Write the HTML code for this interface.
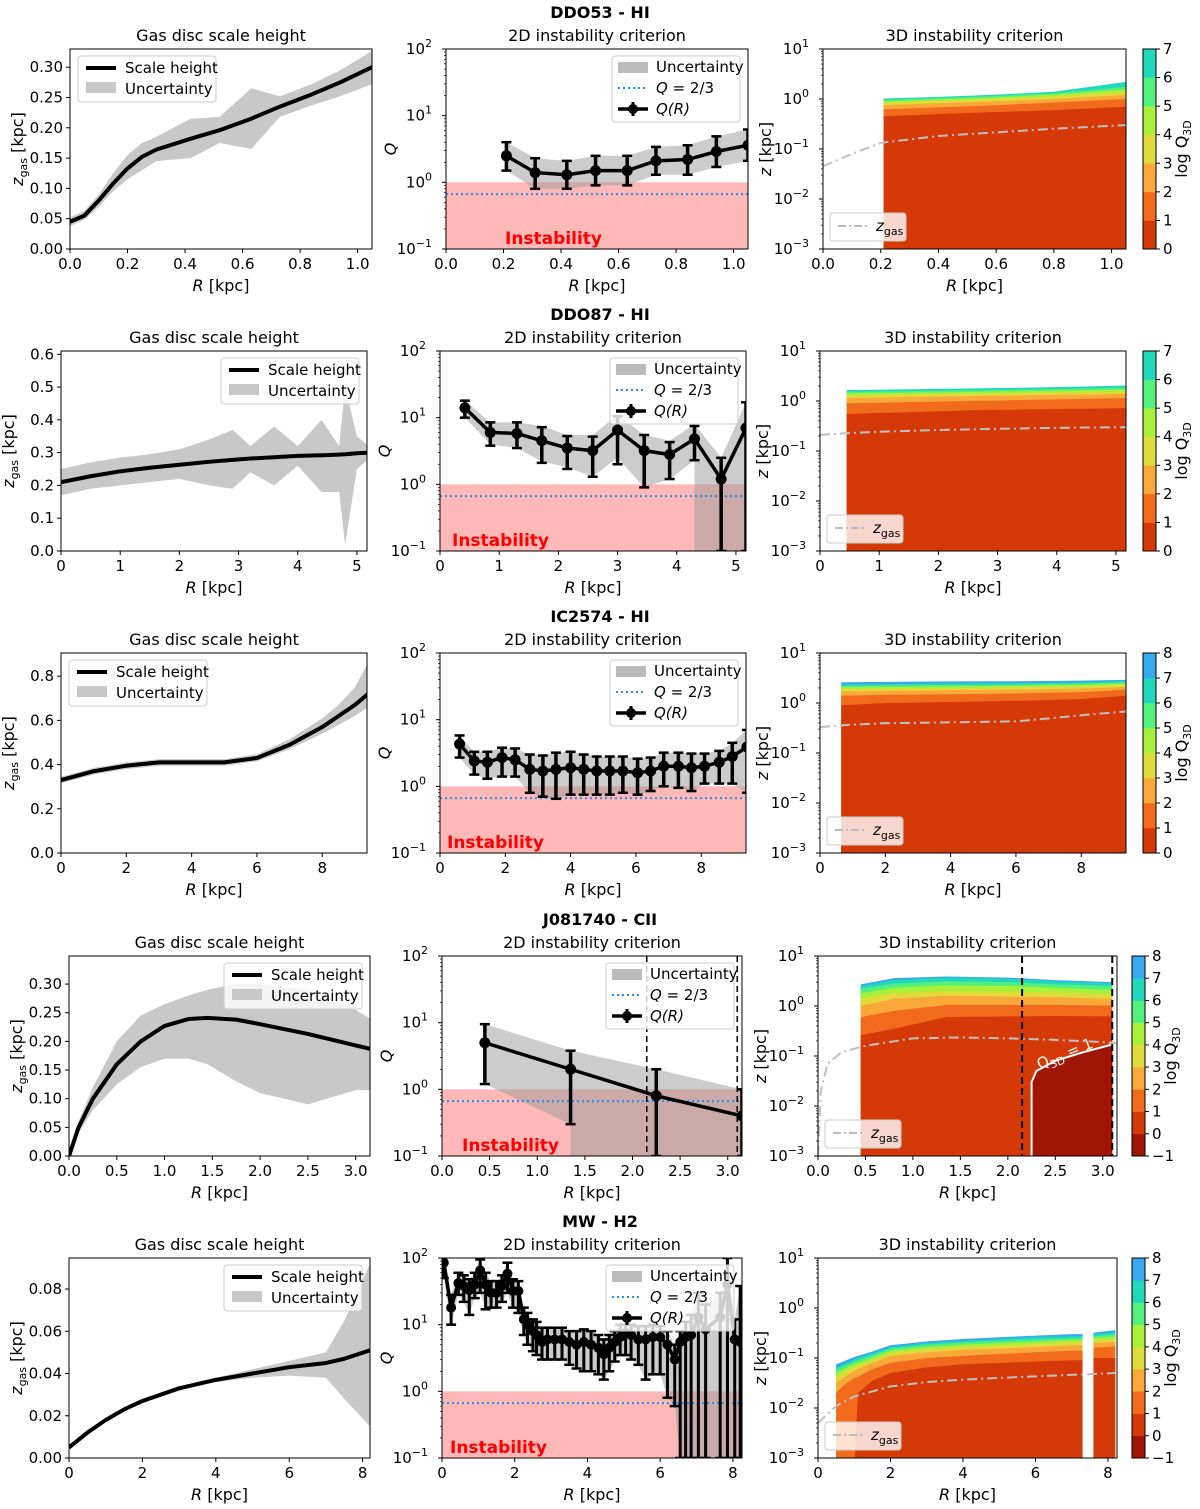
<!DOCTYPE html>
<html><head><meta charset="utf-8">
<style>
html,body{margin:0;padding:0;background:#fff;}
svg{display:block;font-family:"DejaVu Sans","Liberation Sans",sans-serif;}
</style></head>
<body>
<svg id="fig" width="1200" height="1509" viewBox="0 0 1200 1509" xmlns="http://www.w3.org/2000/svg">
<text x="600" y="18" text-anchor="middle" font-size="16" font-weight="bold">DDO53 - HI</text>
<text x="600" y="320" text-anchor="middle" font-size="16" font-weight="bold">DDO87 - HI</text>
<text x="600" y="622" text-anchor="middle" font-size="16" font-weight="bold">IC2574 - HI</text>
<text x="600" y="925" text-anchor="middle" font-size="16" font-weight="bold">J081740 - CII</text>
<text x="600" y="1227" text-anchor="middle" font-size="16" font-weight="bold">MW - H2</text>
</svg>
<script>
// ---------- DATA ----------
// Row 1 DDO53
const h1R=[0,0.05,0.1,0.15,0.2,0.25,0.3,0.42,0.52,0.63,0.73,0.84,0.94,1.05];
const h1Z=[0.045,0.055,0.08,0.108,0.133,0.152,0.164,0.182,0.196,0.215,0.235,0.255,0.275,0.3];
const h1Lo=[0.038,0.048,0.07,0.095,0.115,0.13,0.145,0.15,0.175,0.165,0.218,0.237,0.252,0.272];
const h1Hi=[0.052,0.063,0.09,0.125,0.155,0.175,0.185,0.215,0.218,0.265,0.252,0.272,0.295,0.327];
const q1R=[0.21,0.31,0.42,0.52,0.63,0.73,0.84,0.94,1.05];
const q1Q=[2.5,1.4,1.3,1.5,1.5,2.1,2.2,2.9,3.6];
const q1Lo=[1.5,0.8,0.8,0.9,0.9,1.3,1.3,1.7,2.1];
const q1Hi=[4.0,2.3,2.1,2.5,2.5,3.4,3.6,4.9,6.2];
const c1R=[0.21,0.4,0.6,0.8,1.05];
const c1B=[[0.45,0.5,0.55,0.6,0.7],[0.62,0.68,0.75,0.85,1.0],[0.75,0.82,0.9,1.0,1.2],[0.84,0.92,1.0,1.12,1.38],[0.9,0.98,1.08,1.22,1.55],[0.96,1.05,1.15,1.3,1.75],[1.02,1.1,1.22,1.4,2.2]];
const c1Zr=[0,0.1,0.2,0.4,0.6,0.8,1.05];
const c1Zg=[0.045,0.08,0.133,0.182,0.215,0.255,0.3];
// Row 2 DDO87
const h2R=[0,0.5,1,1.5,2,2.5,2.9,3.2,3.6,4.0,4.4,4.7,4.8,5.0,5.2];
const h2Z=[0.21,0.228,0.243,0.254,0.263,0.272,0.278,0.282,0.286,0.29,0.292,0.294,0.295,0.298,0.3];
const h2Lo=[0.17,0.19,0.2,0.21,0.22,0.2,0.19,0.24,0.2,0.26,0.18,0.18,0.02,0.25,0.28];
const h2Hi=[0.25,0.27,0.285,0.295,0.31,0.34,0.37,0.32,0.38,0.32,0.4,0.32,0.5,0.35,0.32];
const q2R=[0.42,0.85,1.3,1.72,2.15,2.58,3.0,3.45,3.88,4.3,4.75,5.17];
const q2Q=[14,6,5.8,4.5,3.5,3.2,6.5,3.2,2.8,4.8,1.2,7];
const q2Lo=[10,3.8,3.5,2.1,1.7,1.3,2.0,0.9,1.2,2.3,0.1,0.1];
const q2Hi=[18,8.5,8.5,7.2,5.3,5.2,10.5,5.5,4.3,7.5,2.5,17];
const q2BR=[0.42,0.85,1.3,1.72,2.15,2.58,3.0,3.45,3.88,4.3,4.3,4.75,5.17];
const q2BLo=[10,4,3.5,2.2,1.8,1.3,2.5,0.9,1.2,2.3,0.1,0.1,0.1];
const q2BHi=[18,8.5,8.5,7.5,5.5,5.5,11,5.5,4.5,8,8,2.5,17];
const c2R=[0.45,1.5,2.5,3.5,4.5,5.2];
const c2B=[[0.55,0.6,0.65,0.68,0.7,0.72],[0.9,0.95,1.0,1.05,1.1,1.15],[1.15,1.2,1.25,1.3,1.35,1.4],[1.3,1.35,1.4,1.45,1.5,1.55],[1.42,1.47,1.52,1.58,1.65,1.7],[1.52,1.58,1.63,1.7,1.78,1.85],[1.65,1.72,1.78,1.85,1.95,2.05]];
const c2Zr=[0,0.5,1,2,3,4,5.2];
const c2Zg=[0.21,0.228,0.243,0.263,0.278,0.29,0.3];
// Row 3 IC2574
const h3R=[0,0.5,1,2,3,4,5,6,7,8,8.5,9,9.4];
const h3Z=[0.33,0.35,0.37,0.395,0.41,0.41,0.41,0.43,0.49,0.57,0.62,0.67,0.72];
const h3Lo=[0.315,0.335,0.355,0.38,0.395,0.395,0.395,0.415,0.47,0.54,0.58,0.62,0.66];
const h3Hi=[0.345,0.365,0.385,0.41,0.425,0.425,0.425,0.447,0.515,0.61,0.67,0.75,0.86];
const q3R=[0.6,1.05,1.45,1.9,2.3,2.75,3.15,3.55,4.0,4.4,4.8,5.2,5.6,6.05,6.45,6.85,7.3,7.7,8.1,8.55,8.95,9.4];
const q3Q=[4.3,2.4,2.3,2.7,2.5,1.8,1.7,1.8,1.9,1.8,1.7,1.7,1.7,1.6,1.7,2.0,2.0,1.9,2.0,2.3,2.8,3.9];
const q3Lo=[2.7,1.5,1.3,1.4,1.4,0.8,0.7,0.65,0.75,0.75,0.75,0.75,0.8,0.75,0.85,1.0,0.95,0.85,1.1,1.1,1.1,0.8];
const q3Hi=[5.8,3.3,3.3,3.8,3.7,3.0,2.9,3.2,3.3,3.0,2.8,2.8,2.8,2.6,2.7,3.2,3.2,3.1,3.1,3.4,4.5,7.0];
const c3R=[0.65,2,4,6,8,9.4];
const c3B=[[0.9,1.0,1.05,1.1,1.2,1.4],[1.4,1.45,1.5,1.55,1.65,1.85],[1.7,1.75,1.8,1.85,1.95,2.1],[1.9,1.95,2.0,2.05,2.15,2.3],[2.05,2.1,2.15,2.2,2.3,2.45],[2.2,2.25,2.3,2.35,2.45,2.6],[2.35,2.4,2.45,2.5,2.6,2.75],[2.6,2.65,2.7,2.72,2.8,2.9]];
const c3Zr=[0,1,2,4,6,7,8,9.4];
const c3Zg=[0.33,0.37,0.395,0.41,0.43,0.49,0.57,0.68];
// Row 4 J081740
const h4R=[0,0.1,0.25,0.5,0.75,1.0,1.25,1.45,1.75,2.0,2.5,3.0,3.15];
const h4Z=[0,0.05,0.1,0.16,0.2,0.227,0.239,0.241,0.238,0.23,0.213,0.193,0.187];
const h4Lo=[0,0.04,0.08,0.125,0.155,0.17,0.17,0.16,0.13,0.11,0.09,0.115,0.115];
const h4Hi=[0,0.06,0.12,0.2,0.245,0.265,0.28,0.29,0.3,0.3,0.29,0.255,0.24];
const q4R=[0.45,1.35,2.25,3.15];
const q4Q=[5.0,2.0,0.8,0.4];
const q4Lo=[1.2,0.3,0.1,0.1];
const q4Hi=[9.5,3.8,2.0,1.0];
const q4BR=[0.45,1.35,1.35,2.25,3.15];
const q4BLo=[1.2,0.3,0.1,0.1,0.1];
const q4BHi=[9.5,3.8,3.8,2.0,1.0];
const q4Dash=[2.15,3.1];
const c4R=[0.45,0.8,1.35,2.0,2.5,3.1];
const c4B=[[0.26,0.35,0.6,0.62,0.63,0.62],[0.6,0.8,1.05,1.05,1.05,1.02],[1.0,1.4,1.6,1.55,1.5,1.4],[1.4,1.8,2.0,1.95,1.85,1.7],[1.8,2.3,2.6,2.5,2.3,2.1],[2.2,2.8,3.1,3.0,2.7,2.5],[2.5,3.3,3.7,3.5,3.1,2.85],[2.7,3.6,3.9,3.7,3.3,3.0]];
const c4Zr=[0,0.03,0.1,0.25,0.5,1.0,1.5,2.0,2.5,3.0,3.15];
const c4Zg=[0.001,0.02,0.07,0.12,0.16,0.225,0.235,0.225,0.21,0.19,0.18];
const c4UnstR=[2.25,2.25,2.3,2.5,2.8,3.1];
const c4UnstZ=[0.001,0.03,0.05,0.08,0.12,0.17];
// Row 5 MW
const h5R=[0,0.5,1,1.5,2,3,4,5,6,7,7.5,8.2];
const h5Z=[0.005,0.012,0.018,0.023,0.027,0.033,0.037,0.04,0.043,0.045,0.047,0.051];
const h5Lo=[0.004,0.011,0.017,0.022,0.026,0.032,0.036,0.038,0.039,0.038,0.028,0.015];
const h5Hi=[0.006,0.013,0.019,0.024,0.028,0.034,0.038,0.042,0.046,0.05,0.065,0.092];
const q5R=[0.05,0.25,0.45,0.6,0.75,0.9,1.05,1.2,1.35,1.5,1.65,1.8,1.95,2.1,2.25,2.35,2.5,2.6,2.75,2.9,3.1,3.3,3.5,3.7,3.9,4.1,4.3,4.45,4.6,4.75,4.9,5.05,5.2,5.4,5.6,5.8,6.0,6.2,6.4,6.55,6.7,6.85,7.05,7.25,7.65,7.85,8.05,8.2];
const q5Q=[85,18,42,38,33,40,65,40,30,30,38,58,32,32,12,10,8,7,5.5,6,6,6,5.5,5,5.5,5,4.5,3.6,4.5,5.5,6.5,7.5,7,6,6,6.5,6.5,5,3,5.5,6.5,7,13,8.5,13,40,6,5.5];
const q5Lo=[50,10,28,22,14,25,30,17,18,18,22,30,18,15,7,5,4,3.5,3,3,3,3,2.5,2.2,2,2,1.8,1.5,2,2.8,3.5,3.5,3,2.5,1.5,1.8,1.8,0.8,0.6,0.1,0.1,0.1,0.1,0.1,0.1,0.1,0.1,0.1];
const q5Hi=[130,28,60,55,48,60,95,60,45,45,55,85,48,45,18,15,12,11,9,9,9,9,8,8,8.5,8,7,6,7,8,10,10,10,9.5,9.5,10,9.5,8,5,8,11,14,30,20,30,100,12,38];
const c5R=[0.5,0.7,1.0,1.1,1.5,2,3,4,5,6,7,7.3,7.6,8.2];
const c5B=[[0.0005,0.0005,0.0005,0.02,0.035,0.05,0.065,0.075,0.08,0.085,0.09,0.09,0.1,0.1],[0.02,0.028,0.04,0.042,0.06,0.08,0.1,0.11,0.12,0.13,0.14,0.14,0.16,0.17],[0.032,0.04,0.055,0.06,0.08,0.11,0.13,0.145,0.155,0.165,0.18,0.18,0.2,0.21],[0.042,0.05,0.066,0.07,0.09,0.125,0.15,0.165,0.175,0.19,0.205,0.205,0.22,0.24],[0.05,0.06,0.075,0.08,0.1,0.14,0.165,0.185,0.2,0.21,0.23,0.23,0.25,0.27],[0.058,0.068,0.085,0.09,0.115,0.155,0.185,0.205,0.22,0.235,0.25,0.25,0.27,0.3],[0.065,0.076,0.095,0.1,0.125,0.165,0.2,0.22,0.24,0.26,0.275,0.275,0.3,0.33],[0.075,0.085,0.105,0.11,0.135,0.18,0.215,0.24,0.26,0.28,0.3,0.3,0.32,0.36]];
const c5Zr=[0,0.5,1,2,3,4,6,8.2];
const c5Zg=[0.005,0.011,0.017,0.027,0.033,0.037,0.043,0.05];
const c5Gap=[7.3,7.6];

const bandColors={"-1":"#a11505","0":"#d63908","1":"#f26b1d","2":"#fba83a","3":"#e0db3a","4":"#a9f03b","5":"#52f07c","6":"#22d8bc","7":"#38a8f0"};

// ---------- HELPERS ----------
const NS="http://www.w3.org/2000/svg";
const svg=document.getElementById('fig');
let clipId=0;
function mk(tag,attrs,parent){const e=document.createElementNS(NS,tag);for(const k in attrs)e.setAttribute(k,attrs[k]);(parent||svg).appendChild(e);return e;}
function txt(x,y,s,attrs,parent){const t=mk('text',Object.assign({x:x,y:y,'font-size':15},attrs||{}),parent);t.textContent=s;return t;}
function supText(x,y,base,exp,anchor,parent){const t=mk('text',{x:x,y:y,'font-size':15,'text-anchor':anchor},parent);const a=mk('tspan',{},t);a.textContent=base;const b=mk('tspan',{dy:-7,'font-size':11},t);b.textContent=exp;return t;}
function makeAxes(name,x0,y0,w,h,xd,yd,ylog){
  const g=mk('g',{});
  
  
  const sx=v=>x0+(v-xd[0])/(xd[1]-xd[0])*w;
  const sy=ylog?(v=>y0+h-(Math.log10(Math.max(v,1e-9))-yd[0])/(yd[1]-yd[0])*h):(v=>y0+h-(v-yd[0])/(yd[1]-yd[0])*h);
  const id='clip'+(clipId++);
  const cp=mk('clipPath',{id:id},g);mk('rect',{x:x0,y:y0,width:w,height:h},cp);
  const plot=mk('g',{'clip-path':'url(#'+id+')'},g);
  return {g,plot,sx,sy,x0,y0,w,h,xd,yd,ylog};
}
function frame(ax){mk('rect',{x:ax.x0,y:ax.y0,width:ax.w,height:ax.h,fill:'none',stroke:'#000','stroke-width':1},ax.g);}
function xTicks(ax,ticks,labels){ticks.forEach((t,i)=>{const x=ax.sx(t);mk('line',{x1:x,x2:x,y1:ax.y0+ax.h,y2:ax.y0+ax.h+4,stroke:'#000'},ax.g);const l=txt(x,ax.y0+ax.h+20,labels[i],{'text-anchor':'middle'},ax.g);});}
function yTicks(ax,ticks,labels){ticks.forEach((t,i)=>{const y=ax.sy(t);mk('line',{x1:ax.x0-4,x2:ax.x0,y1:y,y2:y,stroke:'#000'},ax.g);const l=txt(ax.x0-7,y+5,labels[i],{'text-anchor':'end'},ax.g);});}
function yLogTicks(ax){for(let e=ax.yd[0];e<=ax.yd[1];e++){const y=ax.sy(Math.pow(10,e));mk('line',{x1:ax.x0-4,x2:ax.x0,y1:y,y2:y,stroke:'#000'},ax.g);const l=supText(ax.x0-14,y+5,'10',(e<0?'\u2212'+(-e):''+e),'end',ax.g);
  if(e<ax.yd[1])for(let m=2;m<10;m++){const ym=ax.sy(m*Math.pow(10,e));mk('line',{x1:ax.x0-2,x2:ax.x0,y1:ym,y2:ym,stroke:'#000','stroke-width':0.7},ax.g);}}}
function labels(ax,title){
  const t=txt(ax.x0+ax.w/2,ax.y0-8,title,{'text-anchor':'middle','font-size':16},ax.g);
  const xt=mk('text',{x:ax.x0+ax.w/2,y:ax.y0+ax.h+42,'text-anchor':'middle','font-size':16},ax.g);
  const a=mk('tspan',{'font-style':'italic'},xt);a.textContent='R';const b=mk('tspan',{},xt);b.textContent=' [kpc]';
}
function yTitle(ax,x,parts){const cx=x,cy=ax.y0+ax.h/2;const t=mk('text',{x:cx,y:cy,'text-anchor':'middle','font-size':16,transform:'rotate(-90 '+cx+' '+cy+')'},ax.g);parts.forEach(p=>{const s=mk('tspan',p[1]||{},t);s.textContent=p[0];});}
function poly(ax,xs,ylo,yhi,attrs,parent){let pts=[];xs.forEach((x,i)=>pts.push(ax.sx(x)+','+ax.sy(yhi[i])));for(let i=xs.length-1;i>=0;i--)pts.push(ax.sx(xs[i])+','+ax.sy(ylo[i]));return mk('polygon',Object.assign({points:pts.join(' ')},attrs),parent||ax.plot);}
function line(ax,xs,ys,attrs,parent){return mk('polyline',Object.assign({points:xs.map((x,i)=>ax.sx(x)+','+ax.sy(ys[i])).join(' '),fill:'none'},attrs),parent||ax.plot);}
function legendBox(ax,x,y,w,h){mk('rect',{x:x,y:y,width:w,height:h,rx:3,fill:'#fff','fill-opacity':0.8,stroke:'#ccc'},ax.g);}

// ---------- PANELS ----------
function heightPanel(name,geom,xd,yd,R,Z,Lo,Hi,xt,xl,yt,yl,legPos){
  const ax=makeAxes(name,geom[0],geom[1],geom[2],200,xd,yd,false);
  const band=poly(ax,R,Lo,Hi,{fill:'#c8c8c8'});
  
  
  const ln=line(ax,R,Z,{stroke:'#000','stroke-width':4,'stroke-linejoin':'round'});
  
  
  frame(ax);xTicks(ax,xt,xl);yTicks(ax,yt,yl);labels(ax,'Gas disc scale height');
  yTitle(ax,ax.x0-47,[['z',{'font-style':'italic'}],['gas',{'font-size':11,dy:4}],[' [kpc]',{dy:-4}]]);
  const lx=legPos==='left'?ax.x0+8:ax.x0+ax.w-146, ly=ax.y0+7;
  legendBox(ax,lx,ly,138,46);
  mk('line',{x1:lx+8,x2:lx+38,y1:ly+12,y2:ly+12,stroke:'#000','stroke-width':4},ax.g);
  mk('rect',{x:lx+8,y:ly+26,width:30,height:11,fill:'#c8c8c8'},ax.g);
  txt(lx+47,ly+17,'Scale height',{},ax.g);txt(lx+47,ly+38,'Uncertainty',{},ax.g);
  return ax;
}
function qPanel(name,geom,xd,R,Q,Lo,Hi,BR,BLo,BHi,xt,xl,extra){
  const ax=makeAxes(name,geom[0],geom[1],geom[2],200,xd,[-1,2],true);
  const pk=mk('rect',{x:ax.x0,y:ax.sy(1),width:ax.w,height:ax.sy(0.1)-ax.sy(1),fill:'#f88','fill-opacity':0.6},ax.plot);
  
  
  const band=poly(ax,BR,BLo,BHi,{fill:'#999','fill-opacity':0.5});
  
  
  const dl=mk('line',{x1:ax.x0,x2:ax.x0+ax.w,y1:ax.sy(2/3),y2:ax.sy(2/3),stroke:'#1f8ff0','stroke-width':2,'stroke-dasharray':'2,3'},ax.plot);
  
  
  const it=txt(ax.x0+(extra&&extra.instX||ax.w/2-54),ax.y0+ax.h-5,'Instability',{fill:'#f00','font-weight':'bold','font-size':17},ax.plot);
  
  
  if(extra&&extra.dash)extra.dash.forEach(d=>{const l=mk('line',{x1:ax.sx(d),x2:ax.sx(d),y1:ax.y0,y2:ax.y0+ax.h,stroke:'#000','stroke-width':1.5,'stroke-dasharray':'6,4'},ax.plot);});
  const ln=line(ax,R,Q,{stroke:'#000','stroke-width':3.5});
  
  
  const mw=(extra&&extra.thin)?3:3.5;
  R.forEach((r,i)=>{const x=ax.sx(r);
    const eb=mk('line',{x1:x,x2:x,y1:ax.sy(Lo[i]),y2:ax.sy(Hi[i]),stroke:'#000','stroke-width':mw},ax.plot);
    
    
    mk('line',{x1:x-5,x2:x+5,y1:ax.sy(Lo[i]),y2:ax.sy(Lo[i]),stroke:'#000','stroke-width':2.5},ax.plot);
    mk('line',{x1:x-5,x2:x+5,y1:ax.sy(Hi[i]),y2:ax.sy(Hi[i]),stroke:'#000','stroke-width':2.5},ax.plot);
    const c=mk('circle',{cx:x,cy:ax.sy(Q[i]),r:(extra&&extra.thin)?5:5.5,fill:'#000'},ax.plot);
    
    });
  frame(ax);xTicks(ax,xt,xl);yLogTicks(ax);labels(ax,'2D instability criterion');
  yTitle(ax,ax.x0-50,[['Q',{'font-style':'italic'}]]);
  const lx=ax.x0+ax.w-136,ly=ax.y0+7;
  legendBox(ax,lx,ly,128,66);
  mk('rect',{x:lx+6,y:ly+6,width:30,height:11,fill:'#bbb'},ax.g);
  mk('line',{x1:lx+6,x2:lx+36,y1:ly+32,y2:ly+32,stroke:'#1f8ff0','stroke-width':2,'stroke-dasharray':'2,3'},ax.g);
  mk('line',{x1:lx+6,x2:lx+36,y1:ly+53,y2:ly+53,stroke:'#000','stroke-width':3.5},ax.g);
  mk('line',{x1:lx+21,x2:lx+21,y1:ly+46,y2:ly+60,stroke:'#000','stroke-width':3},ax.g);
  mk('circle',{cx:lx+21,cy:ly+53,r:5,fill:'#000'},ax.g);
  txt(lx+44,ly+16,'Uncertainty',{},ax.g);
  const q1=mk('text',{x:lx+44,y:ly+37,'font-size':15},ax.g);let s=mk('tspan',{'font-style':'italic'},q1);s.textContent='Q';s=mk('tspan',{},q1);s.textContent=' = 2/3';
  const q2=mk('text',{x:lx+44,y:ly+58,'font-size':15,'font-style':'italic'},ax.g);q2.textContent='Q(R)';
  return ax;
}
function cPanel(name,geom,xd,R,B,lvl0,zR,zG,xt,xl,cbX,cbMin,cbMax,extra){
  const ax=makeAxes(name,geom[0],geom[1],geom[2],200,xd,[-3,1],true);
  for(let k=B.length-1;k>=0;k--){
    const lo=R.map(()=>1e-4);
    const p=poly(ax,R,lo,B[k],{fill:bandColors[String(lvl0+k)]});
    
    
  }
  if(extra&&extra.unst){const u=poly(ax,extra.unst[0],extra.unst[0].map(()=>1e-4),extra.unst[1],{fill:bandColors['-1']});
    const cl=line(ax,extra.unst[0],extra.unst[1],{stroke:'#fff','stroke-width':2});
    const lx=ax.sx(2.62),ly=ax.sy(0.09);const lb=mk('text',{x:lx,y:ly,'font-size':15,fill:'#fff','text-anchor':'middle',transform:'rotate(-22 '+lx+' '+ly+')'},ax.plot);let a=mk('tspan',{},lb);a.textContent='Q';a=mk('tspan',{'font-size':11,dy:4},lb);a.textContent='3D';a=mk('tspan',{dy:-4},lb);a.textContent=' = 1';
    }
  if(extra&&extra.gap){const gr=mk('rect',{x:ax.sx(extra.gap[0]),y:ax.y0,width:ax.sx(extra.gap[1])-ax.sx(extra.gap[0]),height:ax.h,fill:'#fff'},ax.plot);}
  const zl=line(ax,zR,zG,{stroke:'#c0c0c0','stroke-width':2,'stroke-dasharray':'10,4,2,4'});
  
  
  if(extra&&extra.dash)extra.dash.forEach(d=>{const l=mk('line',{x1:ax.sx(d),x2:ax.sx(d),y1:ax.y0,y2:ax.y0+ax.h,stroke:'#000','stroke-width':2,'stroke-dasharray':'7,4'},ax.plot);});
  frame(ax);xTicks(ax,xt,xl);yLogTicks(ax);labels(ax,'3D instability criterion');
  yTitle(ax,ax.x0-52,[['z',{'font-style':'italic'}],[' [kpc]']]);
  const lx=ax.x0+7,ly=ax.y0+ax.h-36;legendBox(ax,lx,ly,76,28);
  mk('line',{x1:lx+8,x2:lx+38,y1:ly+13,y2:ly+13,stroke:'#bbb','stroke-width':2,'stroke-dasharray':'8,3,2,3'},ax.g);
  const zt=mk('text',{x:lx+46,y:ly+18,'font-size':15},ax.g);let a=mk('tspan',{'font-style':'italic'},zt);a.textContent='z';a=mk('tspan',{'font-size':11,dy:4},zt);a.textContent='gas';
  const cb=mk('g',{},ax.g);
  
  
  const n=cbMax-cbMin,hh=200/n;
  for(let v=cbMin;v<cbMax;v++){mk('rect',{x:cbX,y:ax.y0+200-(v-cbMin+1)*hh,width:13,height:hh+0.3,fill:bandColors[String(v)]},cb);}
  mk('rect',{x:cbX,y:ax.y0,width:13,height:200,fill:'none',stroke:'#000'},cb);
  for(let v=cbMin;v<=cbMax;v++){const y=ax.y0+200-(v-cbMin)*hh;mk('line',{x1:cbX+13,x2:cbX+17,y1:y,y2:y,stroke:'#000'},cb);txt(cbX+20,y+5,v<0?'\u2212'+(-v):String(v),{},cb);}
  const cx=cbX+44,cy=ax.y0+100;const ct=mk('text',{x:cx,y:cy,'font-size':16,'text-anchor':'middle',transform:'rotate(-90 '+cx+' '+cy+')'},cb);a=mk('tspan',{},ct);a.textContent='log Q';a=mk('tspan',{'font-size':11,dy:4},ct);a.textContent='3D';
  return ax;
}

// Row 1
heightPanel('ddo53-scale-height',[70,49,302],[0,1.05],[0,0.33],h1R,h1Z,h1Lo,h1Hi,[0,0.2,0.4,0.6,0.8,1.0],['0.0','0.2','0.4','0.6','0.8','1.0'],[0,0.05,0.1,0.15,0.2,0.25,0.3],['0.00','0.05','0.10','0.15','0.20','0.25','0.30'],'left');
qPanel('ddo53-q2d',[446,49,302],[0,1.05],q1R,q1Q,q1Lo,q1Hi,q1R,q1Lo,q1Hi,[0,0.2,0.4,0.6,0.8,1.0],['0.0','0.2','0.4','0.6','0.8','1.0'],{instX:59});
cPanel('ddo53-q3d',[823,49,303],[0,1.05],c1R,c1B,0,c1Zr,c1Zg,[0,0.2,0.4,0.6,0.8,1.0],['0.0','0.2','0.4','0.6','0.8','1.0'],1143,0,7);
// Row 2
heightPanel('ddo87-scale-height',[61,351,306],[0,5.17],[0,0.61],h2R,h2Z,h2Lo,h2Hi,[0,1,2,3,4,5],['0','1','2','3','4','5'],[0,0.1,0.2,0.3,0.4,0.5,0.6],['0.0','0.1','0.2','0.3','0.4','0.5','0.6'],'right');
qPanel('ddo87-q2d',[440,351,306],[0,5.17],q2R,q2Q,q2Lo,q2Hi,q2BR,q2BLo,q2BHi,[0,1,2,3,4,5],['0','1','2','3','4','5'],{instX:12});
cPanel('ddo87-q3d',[820,351,306],[0,5.17],c2R,c2B,0,c2Zr,c2Zg,[0,1,2,3,4,5],['0','1','2','3','4','5'],1143,0,7);
// Row 3
heightPanel('ic2574-scale-height',[61,653,306],[0,9.37],[0,0.905],h3R,h3Z,h3Lo,h3Hi,[0,2,4,6,8],['0','2','4','6','8'],[0,0.2,0.4,0.6,0.8],['0.0','0.2','0.4','0.6','0.8'],'left');
qPanel('ic2574-q2d',[440,653,306],[0,9.37],q3R,q3Q,q3Lo,q3Hi,q3R,q3Lo,q3Hi,[0,2,4,6,8],['0','2','4','6','8'],{instX:7});
cPanel('ic2574-q3d',[820,653,306],[0,9.37],c3R,c3B,0,c3Zr,c3Zg,[0,2,4,6,8],['0','2','4','6','8'],1143,0,8);
// Row 4
heightPanel('j081740-scale-height',[69,956,301],[0,3.15],[0,0.349],h4R,h4Z,h4Lo,h4Hi,[0,0.5,1,1.5,2,2.5,3],['0.0','0.5','1.0','1.5','2.0','2.5','3.0'],[0,0.05,0.1,0.15,0.2,0.25,0.3],['0.00','0.05','0.10','0.15','0.20','0.25','0.30'],'right');
qPanel('j081740-q2d',[442,956,300],[0,3.15],q4R,q4Q,q4Lo,q4Hi,q4BR,q4BLo,q4BHi,[0,0.5,1,1.5,2,2.5,3],['0.0','0.5','1.0','1.5','2.0','2.5','3.0'],{dash:q4Dash,instX:20});
cPanel('j081740-q3d',[818,956,299],[0,3.15],c4R,c4B,0,c4Zr,c4Zg,[0,0.5,1,1.5,2,2.5,3],['0.0','0.5','1.0','1.5','2.0','2.5','3.0'],1132,-1,8,{dash:q4Dash,unst:[c4UnstR,c4UnstZ]});
// Row 5
heightPanel('mw-scale-height',[69,1258,301],[0,8.2],[0,0.0947],h5R,h5Z,h5Lo,h5Hi,[0,2,4,6,8],['0','2','4','6','8'],[0,0.02,0.04,0.06,0.08],['0.00','0.02','0.04','0.06','0.08'],'right');
qPanel('mw-q2d',[442,1258,300],[0,8.25],q5R,q5Q,q5Lo,q5Hi,q5R,q5Lo,q5Hi,[0,2,4,6,8],['0','2','4','6','8'],{instX:8,thin:true});
cPanel('mw-q3d',[818,1258,299],[0,8.25],c5R,c5B,0,c5Zr,c5Zg,[0,2,4,6,8],['0','2','4','6','8'],1132,-1,8,{gap:c5Gap});
</script>
</body></html>
